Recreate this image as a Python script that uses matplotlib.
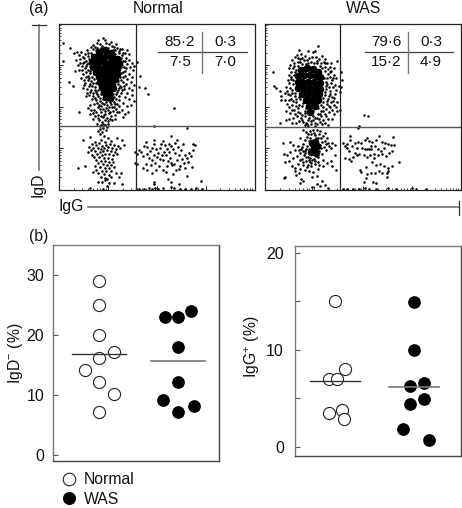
import matplotlib
matplotlib.use('Agg')
import numpy as np
import matplotlib.pyplot as plt
from matplotlib.lines import Line2D

plt.rcParams['font.family'] = ['Liberation Sans', 'DejaVu Sans']
plt.rcParams['mathtext.fontset'] = 'custom'
plt.rcParams['mathtext.rm'] = 'Liberation Sans'
plt.rcParams['mathtext.default'] = 'regular'

W, H = 462, 508

# ---- (b) summary data
normal_d_offset = [0, 0, 0, .186, 0, -.18, 0, .186, 0]
normal_d = [29, 25, 20, 17.1, 16.1, 14.1, 12.1, 10.1, 7.1]
was_d_offset = [-.165, 0, .165, 0, 0, -.195, 0, .2]
was_d = [23, 23, 24, 18, 12.1, 9.2, 7.1, 8.1]
normal_g_offset = [0, .122, -.072, .03, .089, -.072, .114]
normal_g = [15, 8, 7, 7, 3.8, 3.5, 2.85]
was_g_offset = [0, 0, -.05, .13, -.05, .12, -.143, .186]
was_g = [14.9, 10, 6.3, 6.6, 4.4, 4.9, 1.8, 0.65]
mean_d = [16.8, 15.6]
mean_g = [6.8, 6.2]

# ---- (a) flow cytometry events, (IgG channel, IgD channel)
normal_core = [(40,138),(46,140),(52,137),(35,133),(41,133),(47,134),(53,132),(58,131),(33,128),(39,128),
    (45,128),(51,127),(57,126),(60,127),(34,123),(40,122),(46,123),(52,122),(58,121),(37,118),(43,117),
    (49,118),(55,116),(58,116),(40,113),(46,112),(52,112),(56,111),(41,108),(47,107),(53,106),(43,103),
    (49,102),(54,102),(45,98),(50,97),(47,93),(51,92)]
normal_upper = [(44,152),(41,146),(38,147),(47,147),(50,146),(36,143),(32,143),(55,143),(58,142),(61,141),
    (4,147),(11,142),(4,129),(10,108),(14,104),(20,78),(78,128),(81,114),(80,103),(86,102),(89,96),(115,82),
    (15,137),(18,138),(20,135),(22,138),(24,133),(26,136),(28,140),(29,134),(17,130),(21,131),(25,128),(28,126),
    (30,131),(23,124),(26,122),(29,120),(31,117),(33,113),(24,116),(27,113),(20,120),(22,112),(26,107),(29,110),
    (31,106),(34,107),(36,103),(32,100),(28,101),(24,102),(34,97),(37,98),(30,95),(27,94),(33,91),(36,92),
    (39,94),(41,89),(38,87),(35,86),(31,85),(29,82),(32,80),(35,80),(39,83),(42,84),(45,86),(48,85),
    (52,86),(55,88),(57,91),(60,94),(62,97),(59,100),(62,103),(65,101),(68,97),(66,93),(70,91),(73,95),
    (75,89),(72,85),(68,84),(64,87),(60,84),(57,81),(54,79),(50,77),(46,79),(42,78),(39,75),(36,74),
    (44,73),(48,72),(52,74),(56,75),(60,78),(63,80),(66,76),(64,73),(69,78),(61,104),(64,108),(67,106),
    (70,102),(73,100),(75,105),(72,108),(68,111),(64,113),(62,117),(66,119),(70,116),(73,113),(74,120),(71,123),
    (68,126),(65,123),(64,129),(67,132),(70,130),(73,127),(75,124),(70,136),(66,137),(63,135),(60,137),(63,141),
    (68,140),(56,136),(32,137),(27,129),(19,125),(16,119),(35,111),(30,112),(36,118),(31,124),(33,135),(38,142),
    (42,142),(49,142),(54,140),(60,133),(62,123),(61,113),(59,106),(56,101),(57,96),(54,96),(42,96),(39,100),
    (37,107),(35,116),(38,124),(44,106),(50,116),(44,120),(40,70),(43,68),(46,70),(49,69),(45,75),(41,81),
    (53,83),(47,82),(51,71),(38,66),(42,65),(46,65),(49,66),(44,62),(41,61),(47,60),(39,59),(43,58),(41,56)]
normal_dense = [(34,141),(37,140),(43,144),(53,144),(56,140),(60,139),(62,132),(63,125),(64,118),(62,110),(59,109),
    (60,102),(58,98),(55,93),(56,86),(53,90),(44,91),(41,92),(38,96),(36,100),(33,104),(30,104),(32,109),(29,114),
    (31,119),(30,127),(27,124),(25,132),(29,137),(34,145),(39,150),(46,150),(52,148),(57,146),(64,137),(66,129),
    (67,122),(66,114),(65,104),(63,100),(60,90),(58,86),(51,88),(47,88),(43,87),(40,85),(37,90),(34,94),(28,97),
    (25,110),(23,120),(24,127),(21,127),(27,118),(25,105),(31,98),(49,80),(44,81),(37,78),(34,77),(55,83),(50,83),
    (46,76),(42,74),(51,78),(58,78),(39,72),(53,70),(56,71),(34,71),(31,76),(41,64),(44,66),(48,63)]
normal_low_left = [(24,50),(31,53),(45,54),(49,52),(42,50),(36,48),(40,47),(46,48),(52,49),(58,52),(63,50),
    (33,46),(37,45),(43,44),(47,45),(51,46),(55,45),(59,44),(30,43),(34,42),(39,42),(42,41),(45,42),(49,43),
    (53,42),(57,41),(61,42),(65,45),(32,40),(36,39),(41,38),(44,39),(48,40),(52,39),(56,38),(29,38),(38,36),
    (43,35),(46,36),(50,36),(54,35),(58,36),(33,35),(35,33),(40,33),(45,32),(49,32),(53,31),(37,30),(42,29),
    (46,29),(50,28),(54,28),(39,27),(44,26),(48,25),(52,25),(36,24),(41,23),(46,22),(50,22),(55,23),(26,24),
    (19,22),(37,20),(43,19),(47,19),(52,19),(34,18),(39,17),(45,16),(50,15),(57,17),(62,17),(42,13),(46,12),
    (46,10),(48,11),(52,13),(60,13),(39,8),(43,8),(50,7),(55,7),(48,4),(63,6),(31,2),(44,1)]
normal_low_right = [(80,40),(76,38),(78,36),(82,38),(76,27),(78,26),(85,44),(87,48),(88,43),(84,34),(88,36),
    (91,39),(93,42),(95,46),(95,50),(90,32),(93,30),(87,26),(84,22),(88,20),(92,25),(96,27),(98,33),(99,37),
    (101,42),(102,46),(104,49),(106,45),(108,41),(110,38),(112,44),(114,41),(116,37),(111,32),(107,35),(104,30),
    (100,24),(97,20),(93,17),(104,20),(107,18),(108,24),(112,27),(115,26),(118,30),(120,35),(122,40),(119,43),
    (124,46),(118,50),(112,54),(123,31),(126,35),(128,32),(125,27),(129,28),(121,24),(117,20),(114,16),(126,22),
    (130,37),(132,34),(134,40),(136,45),(134,46),(133,23),(128,14),(113,25),(109,29),(105,38),(103,35),(101,31),
    (95,35),(97,41),(110,46),(116,47),(120,21),(109,11),(95,8),(95,6),(112,8),(120,6),(142,9),(95,64),(128,62)]
normal_axis = [(80,1),(85,1),(90,2),(93,1),(96,2),(99,1),(104,2),(112,3),(115,2),(121,1),(126,1),(132,1),(137,2),(143,1)]

was_core = [(36,120),(42,122),(48,121),(53,118),(33,114),(39,115),(45,115),(51,114),(55,113),(33,108),(37,108),
    (43,108),(49,108),(55,107),(33,102),(39,102),(45,102),(51,102),(55,101),(37,96),(43,96),(49,96),
    (54,96),(41,90),(47,90),(53,90),(44,84),(50,84),(45,78),(49,42),(52,44),(47,47),(50,48),(46,38),(51,37)]
was_upper = [(53,144),(48,138),(43,139),(50,139),(32,135),(30,133),(35,131),(40,134),(44,132),(51,133),(54,131),
    (57,134),(59,128),(33,128),(29,127),(62,127),(65,123),(72,129),(37,126),(41,126),(56,127),(60,123),(28,122),
    (31,120),(26,118),(24,115),(29,115),(60,119),(63,116),(66,119),(69,115),(71,112),(67,110),(62,112),(26,111),
    (23,110),(28,106),(21,103),(25,102),(8,118),(9,104),(11,102),(15,99),(16,94),(16,90),(20,97),(20,90),(23,96),
    (27,97),(30,94),(26,91),(22,86),(27,85),(31,88),(33,82),(29,80),(25,77),(21,79),(35,77),(32,74),(28,72),
    (24,71),(21,70),(15,67),(36,72),(40,74),(44,72),(48,74),(52,72),(56,74),(60,76),(64,78),(69,76),(72,79),
    (38,68),(42,66),(46,69),(50,67),(55,68),(58,70),(63,71),(67,71),(60,95),(63,91),(66,88),(69,92),(72,88),
    (69,85),(65,83),(62,86),(58,83),(56,79),(61,101),(65,99),(68,103),(71,100),(74,104),(62,106),(66,107),(64,94),
    (70,96),(76,103),(75,98),(77,110),(58,92),(35,91),(37,84),(40,79),(36,136),(46,128),(52,127),(57,122),(61,104),
    (27,130),(37,132),(34,140),(25,125),(66,127),(69,122),(75,80),(98,75),(102,74),(94,64),(93,62),(76,118)]
was_dense = [(33,132),(39,130),(43,127),(49,127),(55,124),(60,127),(63,121),(65,113),(59,112),(61,108),(64,103),(60,98),
    (58,88),(56,85),(53,82),(58,79),(55,76),(48,79),(41,82),(38,87),(34,85),(31,84),(34,93),(30,97),(27,100),(25,95),
    (24,107),(26,113),(30,118),(33,124),(29,124),(35,128),(42,130),(47,133),(52,129),(60,131),(40,77),(37,75),(33,78),
    (30,76),(27,80),(24,83),(44,76),(50,72),(53,76),(61,81),(64,84),(67,93),(71,83),(61,74),(67,80),(43,70),(48,70),
    (54,71),(34,69),(31,67),(27,67),(41,67),(37,70),(52,66),(60,67),(63,65),(57,66),(46,66),(50,64),(43,64),(40,65),
    (35,105),(28,110),(22,99),(24,90),(28,89),(31,91),(65,96),(68,89),(62,89),(70,105),(68,112),(65,118),(24,122)]
was_low_left = [(25,48),(28,45),(33,44),(36,41),(40,39),(35,37),(39,35),(43,33),(37,31),(41,29),(45,28),(49,31),
    (53,33),(57,36),(61,40),(64,44),(67,47),(70,45),(66,42),(61,46),(57,48),(55,45),(59,43),(42,53),(46,56),
    (50,55),(54,56),(58,54),(62,52),(35,52),(40,50),(44,49),(38,46),(42,44),(44,41),(46,36),(51,34),(54,39),
    (56,42),(50,26),(46,24),(42,23),(38,25),(33,26),(28,32),(24,29),(20,28),(22,35),(19,36),(27,24),(30,22),
    (35,21),(40,20),(44,19),(30,19),(34,17),(31,15),(48,18),(53,21),(58,24),(62,27),(66,29),(71,20),(47,13),
    (52,14),(36,11),(38,9),(19,12),(20,13),(35,7),(52,6),(57,9),(47,3),(60,5),(63,2),(55,4),(67,24),(70,35),
    (48,60),(52,60),(45,59),(41,58),(55,59),(60,57),(38,60),(47,45),(51,52),(58,30),(45,32),(18,47),(25,38),(30,40),
    (41,41),(44,37),(41,33),(47,30),(50,29),(53,28),(44,30),(40,37),(38,39),(34,40),(37,43),(56,52),(53,52),(45,52),
    (49,57),(43,56),(60,49),(63,47),(32,34),(35,30),(38,28),(43,25),(46,27),(54,25)]
was_low_right = [(78,47),(80,44),(82,46),(85,50),(85,54),(82,42),(84,39),(87,44),(90,47),(93,48),(96,47),(99,50),
    (101,52),(103,49),(106,48),(110,50),(113,54),(116,48),(119,47),(122,46),(125,45),(128,45),(127,53),(118,42),
    (115,39),(112,41),(109,44),(105,44),(99,41),(101,41),(103,41),(105,41),(97,42),(92,42),(90,37),(94,36),
    (98,35),(101,33),(104,35),(108,36),(112,35),(116,36),(120,34),(123,37),(126,39),(88,33),(86,29),(80,32),
    (84,31),(106,28),(110,25),(114,26),(118,24),(122,22),(126,24),(122,19),(121,17),(100,23),(95,20),(96,18),
    (101,16),(105,17),(109,17),(113,19),(116,17),(100,12),(110,7),(107,8),(98,8),(133,28),(121,13),(92,35),(108,32)]
was_axis = [(78,1),(82,1),(88,1),(94,1),(99,2),(103,1),(110,1),(122,2),(130,1),(146,2),(150,1),(160,1)]

INK = '#111111'
GRAY = '#555555'

fig = plt.figure(figsize=(W/100, H/100), dpi=100)

def axes_px(x0, y0, x1, y1):
    return fig.add_axes([x0/W, 1-y1/H, (x1-x0)/W, (y1-y0)/H])

def line_px(xs, ys, color=GRAY, lw=1.0):
    fig.add_artist(Line2D([x/W for x in xs], [1-y/H for y in ys], color=color, lw=lw,
                          transform=fig.transFigure))

def text_px(x, y, s, **kw):
    kw.setdefault('fontsize', 11.3)
    kw.setdefault('color', INK)
    kw.setdefault('ha', 'center')
    kw.setdefault('va', 'center')
    fig.text(x/W, 1-y/H, s, **kw)

def flow_panel(x0, x1, gx, gy, core, groups):
    ax = axes_px(x0, 23.5, x1, 190)
    ax.set_xlim(0, 195)
    ax.set_ylim(0, 166.5)
    c = np.array(core)
    ax.scatter(c[:, 0], c[:, 1], s=30, c='k', lw=0, zorder=2)
    for g in groups:
        p = np.array(g)
        ax.scatter(p[:, 0], p[:, 1], s=3.4, c='k', lw=0, zorder=2, clip_on=True)
    ax.axvline(gx, color='#222222', lw=0.9, zorder=3)
    ax.axhline(gy, color='#555555', lw=1.0, zorder=3)
    for s in ax.spines.values():
        s.set_linewidth(0.9)
        s.set_color('#222222')
    dx, dy = 195/4, 166.5/4
    ax.set_xticks([i*dx for i in range(5)])
    ax.set_yticks([i*dy for i in range(5)])
    minor = np.log10(np.arange(2, 10))
    ax.set_xticks([(i+m)*dx for i in range(4) for m in minor], minor=True)
    ax.set_yticks([(i+m)*dy for i in range(4) for m in minor], minor=True)
    ax.tick_params(which='major', direction='in', length=3.2, width=0.7, color='#222222',
                   labelbottom=False, labelleft=False)
    ax.tick_params(which='minor', direction='in', length=1.6, width=0.6, color='#222222')
    return ax

flow_panel(59, 254.5, 77.3, 64.3, normal_core,
           [normal_upper, normal_dense, normal_low_left, normal_low_right, normal_axis])
flow_panel(265.3, 460.7, 74.7, 63, was_core,
           [was_upper, was_dense, was_low_left, was_low_right, was_axis])

# quadrant percentage tables
def quad(hx0, hx1, vx, lx, rx, vals):
    line_px([hx0, hx1], [51.7, 51.7], color='#444444', lw=0.9)
    line_px([vx, vx], [31.7, 72.7], color='#777777', lw=1.0)
    text_px(lx, 42, vals[0], fontsize=11)
    text_px(rx, 42, vals[1], fontsize=11)
    text_px(lx, 62, vals[2], fontsize=11)
    text_px(rx, 62, vals[3], fontsize=11)

quad(158, 247, 201.7, 180, 225, ['85·2', '0·3', '7·5', '7·0'])
quad(365, 452.7, 408, 386, 431, ['79·6', '0·3', '15·2', '4·9'])

text_px(158.5, 8.5, 'Normal')
text_px(364, 8.5, 'WAS')
text_px(39, 9, '(a)')
text_px(39, 236, '(b)')

# shared flow axis labels
line_px([38.5, 38.5], [25, 170], color='#777777', lw=1.2)
line_px([32, 46], [25, 25], color='#333333', lw=0.9)
text_px(38, 184.5, 'IgD', rotation=90)
text_px(71, 207, 'IgG')
line_px([88, 459.3], [207.5, 207.5], color='#666666', lw=1.1)
line_px([459.3, 459.3], [200.5, 215], color='#333333', lw=0.9)

def dot_panel(box, xlim, ylim, ticks, labels, minor, nx, ny, wx, wy, means, half, pad):
    ax = axes_px(*box)
    ax.set_xlim(*xlim)
    ax.set_ylim(*ylim)
    ax.scatter(nx, ny, s=76, facecolor='white', edgecolor='#222222', lw=0.8, zorder=2)
    ax.scatter(wx, wy, s=84, c='k', lw=0, zorder=2)
    ax.plot([1-half, 1+half], [means[0], means[0]], color='#333333', lw=1.0, zorder=3)
    ax.plot([2-half, 2+half], [means[1], means[1]], color='#777777', lw=1.2, zorder=3)
    ax.set_xticks([])
    ax.set_yticks(ticks)
    ax.set_yticklabels(labels, fontsize=11.5, color=INK)
    if minor:
        ax.set_yticks(minor, minor=True)
    ax.tick_params(which='both', axis='y', direction='in', length=3.6, width=0.8, color='#555555', pad=pad)
    for n, s in ax.spines.items():
        s.set_linewidth(1.0)
        s.set_color('#444444' if n in ('bottom', 'right') else '#777777')
    return ax

dot_panel((53.3, 245, 219.3, 461.3), (0.415, 2.525), (-1.05, 35), [0, 10, 20, 30], ['0', '10', '20', '30'], None,
          [1+o for o in normal_d_offset], normal_d, [2+o for o in was_d_offset], was_d, mean_d, 0.345, 6.5)
dot_panel((295, 246, 460.7, 456), (0.494, 2.59), (-0.96, 20.7), [0, 10, 20], ['0', '10', '20'], [5, 15],
          [1+o for o in normal_g_offset], normal_g, [2+o for o in was_g_offset], was_g, mean_g, 0.32, 8)

text_px(15.5, 353, 'IgD$^{-}$ (%)', rotation=90, fontsize=11.3)
text_px(252, 347, 'IgG$^{+}$ (%)', rotation=90, fontsize=11.3)

# legend
handles = [Line2D([], [], ls='', marker='o', ms=9.0, mfc='white', mec='#222222', mew=0.8),
           Line2D([], [], ls='', marker='o', ms=9.4, mfc='k', mec='k', mew=0)]
fig.legend(handles, ['Normal', 'WAS'], frameon=False, fontsize=11.3, loc='upper left',
           bbox_to_anchor=(59/W, 1-472/H), borderaxespad=0, borderpad=0, handletextpad=0.3,
           labelspacing=0.3, labelcolor=INK, handlelength=1.3)

fig.savefig('out.png', dpi=100)
